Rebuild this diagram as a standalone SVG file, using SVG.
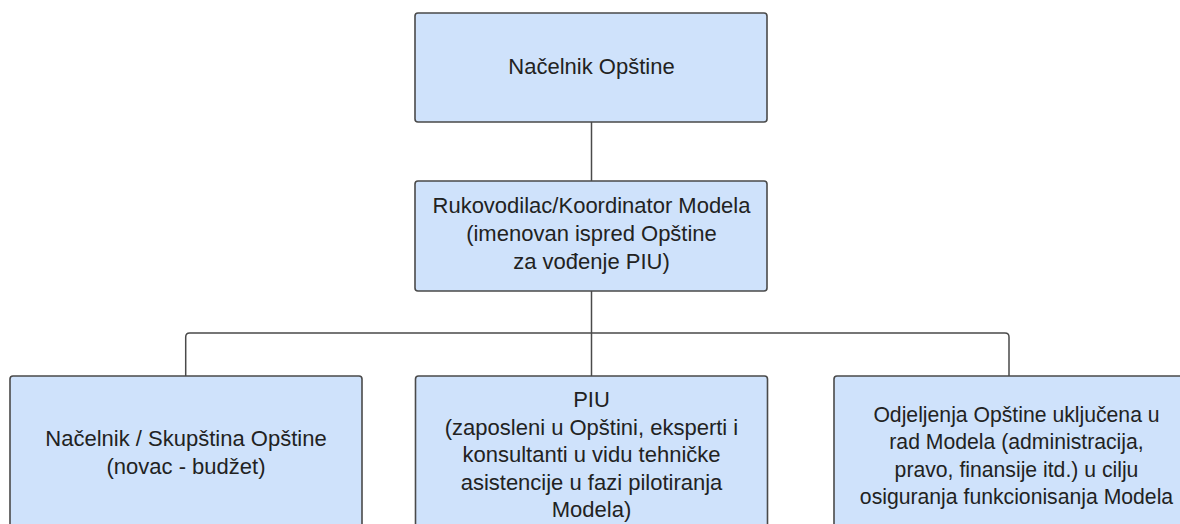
<svg xmlns="http://www.w3.org/2000/svg" width="1180" height="524" viewBox="0 0 1180 524">
<style>
.box{fill:#cfe2fb;stroke:#4a4a4a;stroke-width:1.6}
.t{font-family:"Liberation Sans",Arial,sans-serif;font-size:22px;fill:#222;text-anchor:middle}
#n5 .t{font-size:21.2px}
.c{fill:none;stroke:#4a4a4a;stroke-width:1.5}
</style>
<rect width="1180" height="524" fill="#ffffff"/>
<g id="connectors">
<path class="c" d="M591.5 122 V181"/>
<path class="c" d="M591.5 291 V376"/>
<path class="c" d="M185.7 376 V337 Q185.7 333 189.7 333 H1005 Q1009 333 1009 337 V376"/>
</g>
<g id="n1">
<rect class="box" x="415" y="13" width="352" height="109" rx="3"/>
<text class="t" x="591.5" y="74">Načelnik Opštine</text>
</g>
<g id="n2">
<rect class="box" x="415" y="181" width="352" height="110" rx="3"/>
<text class="t" x="591.5" y="213">Rukovodilac/Koordinator Modela</text>
<text class="t" x="591.5" y="241">(imenovan ispred Opštine</text>
<text class="t" x="591.5" y="269">za vođenje PIU)</text>
</g>
<g id="n3">
<rect class="box" x="10" y="376" width="352" height="160" rx="3"/>
<text class="t" x="186" y="446">Načelnik / Skupština Opštine</text>
<text class="t" x="186" y="474">(novac - budžet)</text>
</g>
<g id="n4">
<rect class="box" x="415.5" y="376" width="352" height="160" rx="3"/>
<text class="t" x="591.5" y="407">PIU</text>
<text class="t" x="591.5" y="434.5">(zaposleni u Opštini, eksperti i</text>
<text class="t" x="591.5" y="462">konsultanti u vidu tehničke</text>
<text class="t" x="591.5" y="489.5">asistencije u fazi pilotiranja</text>
<text class="t" x="591.5" y="517">Modela)</text>
</g>
<g id="n5">
<rect class="box" x="834" y="376" width="360" height="160" rx="3"/>
<text class="t" x="1016.5" y="421.5">Odjeljenja Opštine uključena u</text>
<text class="t" x="1016.5" y="449">rad Modela (administracija,</text>
<text class="t" x="1016.5" y="476.5">pravo, finansije itd.) u cilju</text>
<text class="t" x="1016.5" y="504">osiguranja funkcionisanja Modela</text>
</g>
</svg>
